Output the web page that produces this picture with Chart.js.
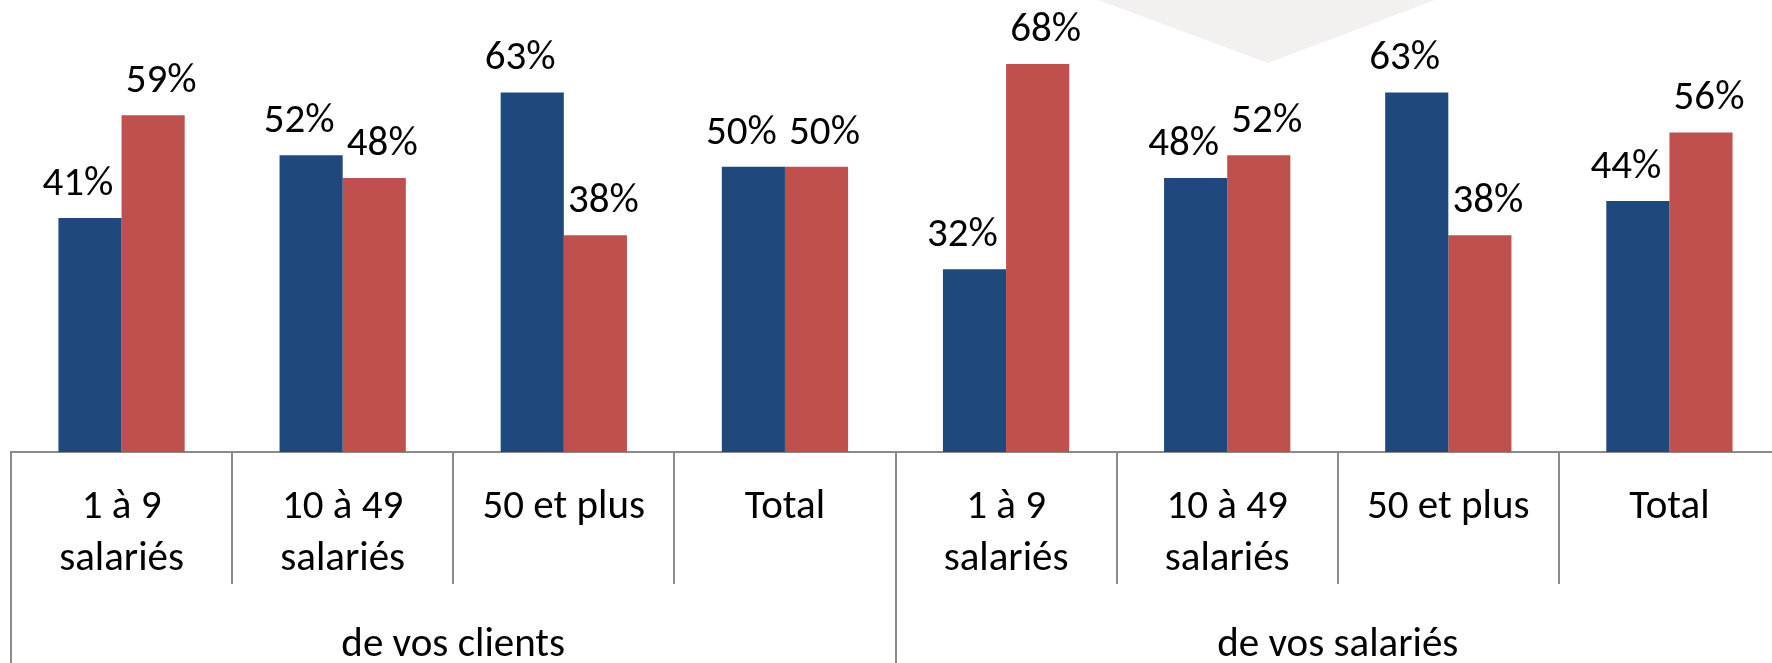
<!DOCTYPE html>
<html>
<head>
<meta charset="utf-8">
<script src="https://cdn.jsdelivr.net/npm/chart.js@4"></script>
<style>
    html, body { margin: 0; padding: 0; background: #fff; overflow: hidden; }
    #wrap { width: 1772px; height: 663px; overflow: hidden; }
</style>
</head>
<body>
<div id="wrap"><canvas id="chart" width="1782" height="663"></canvas></div>
<script>
const categories = [
    ['1 à 9', 'salariés'], ['10 à 49', 'salariés'], ['50 et plus'], ['Total'],
    ['1 à 9', 'salariés'], ['10 à 49', 'salariés'], ['50 et plus'], ['Total']
];
const groups = ['de vos clients', 'de vos salariés'];
const serie1 = [41, 52, 63, 50, 32, 48, 63, 44];
const serie2 = [59, 48, 38, 50, 68, 52, 38, 56];

const FONT = 'Carlito, "Liberation Sans Narrow", "Liberation Sans", sans-serif';
const AXIS_GREY = '#8a8a8a';

// grey arrow tip coming from above the chart
const arrowTip = {
    id: 'arrowTip',
    beforeDraw(chart) {
        const ctx = chart.ctx;
        ctx.save();
        ctx.fillStyle = '#f2f1f0';
        ctx.beginPath();
        ctx.moveTo(1098, 0);
        ctx.lineTo(1268, 63);
        ctx.lineTo(1435, 0);
        ctx.closePath();
        ctx.fill();
        ctx.restore();
    }
};

// value labels above each bar
const valueLabels = {
    id: 'valueLabels',
    afterDatasetsDraw(chart) {
        const ctx = chart.ctx;
        ctx.save();
        ctx.font = '41px ' + FONT;
        ctx.fillStyle = '#000';
        ctx.textAlign = 'center';
        ctx.textBaseline = 'alphabetic';
        chart.data.datasets.forEach((ds, i) => {
            const nudge = i === 0 ? -12 : 8;
            chart.getDatasetMeta(i).data.forEach((bar, j) => {
                ctx.fillText(ds.data[j] + '%', bar.x + nudge, bar.y - 23);
            });
        });
        ctx.restore();
    }
};

new Chart(document.getElementById('chart').getContext('2d'), {
    type: 'bar',
    data: {
        labels: categories,
        datasets: [{
            label: 'Série 1',
            data: serie1,
            backgroundColor: '#1f497d',
            categoryPercentage: 0.571,
            barPercentage: 1
        }, {
            label: 'Série 2',
            data: serie2,
            backgroundColor: '#c0504d',
            categoryPercentage: 0.571,
            barPercentage: 1
        }]
    },
    options: {
        responsive: false,
        animation: false,
        devicePixelRatio: 1,
        layout: { padding: { left: 11, right: 2, top: 0, bottom: 0 } },
        plugins: {
            legend: { display: false },
            tooltip: { enabled: false }
        },
        scales: {
            y: {
                display: false,
                min: 0,
                max: 79.2
            },
            x: {
                weight: 1,
                grid: {
                    offset: true,
                    drawOnChartArea: false,
                    drawTicks: true,
                    tickLength: 132,
                    color: AXIS_GREY,
                    lineWidth: 2
                },
                border: { display: true, color: AXIS_GREY, width: 2 },
                ticks: {
                    autoSkip: false,
                    maxRotation: 0,
                    minRotation: 0,
                    padding: -102,
                    color: '#000',
                    font: { family: FONT, size: 41, lineHeight: 1.26 }
                },
                afterFit(scale) { scale.height = 132; }
            },
            x2: {
                type: 'category',
                position: 'bottom',
                weight: 2,
                labels: groups,
                offset: true,
                grid: {
                    offset: true,
                    drawOnChartArea: false,
                    drawTicks: true,
                    tickLength: 79,
                    color: AXIS_GREY,
                    lineWidth: 2
                },
                border: { display: false },
                ticks: {
                    autoSkip: false,
                    maxRotation: 0,
                    minRotation: 0,
                    padding: -43,
                    color: '#000',
                    font: { family: FONT, size: 41, lineHeight: 1.26 }
                },
                afterFit(scale) { scale.height = 79; }
            }
        }
    },
    plugins: [arrowTip, valueLabels]
});
</script>
</body>
</html>
